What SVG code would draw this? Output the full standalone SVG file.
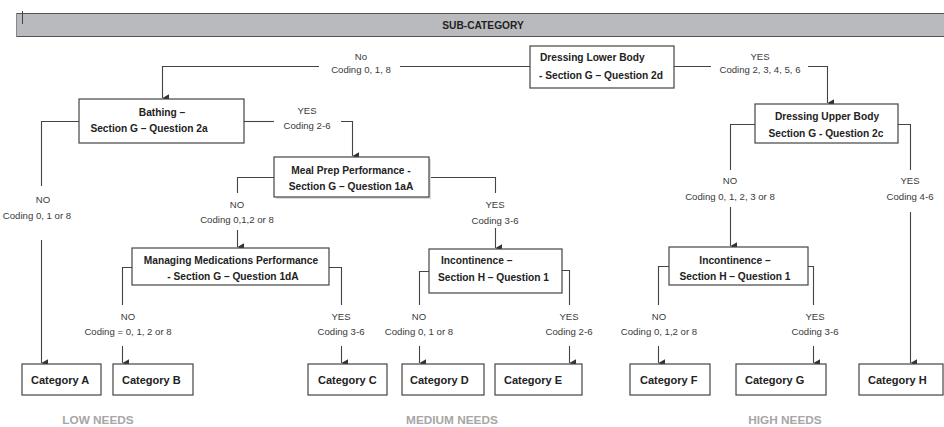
<svg xmlns="http://www.w3.org/2000/svg" width="944" height="427" viewBox="0 0 944 427">
<defs>
<marker id="arr" markerWidth="8" markerHeight="8" refX="3.5" refY="6" orient="auto-start-reverse" markerUnits="userSpaceOnUse" viewBox="0 0 7 7">
<path d="M0,0 L7,0 L3.5,6 Z" fill="#333"/>
</marker>
<style>
.box{fill:#fff;stroke:#444;stroke-width:1.2}
.bt{font-family:"Liberation Sans",Arial,sans-serif;font-weight:bold;font-size:10.2px;fill:#222}
.ct{font-family:"Liberation Sans",Arial,sans-serif;font-weight:bold;font-size:11px;fill:#222}
.lb{font-family:"Liberation Sans",Arial,sans-serif;font-size:9.6px;fill:#3a3a3a;text-anchor:middle}
.ft{font-family:"Liberation Sans",Arial,sans-serif;font-weight:bold;font-size:11.8px;fill:#a6a6a6;text-anchor:middle}
.ln{fill:none;stroke:#444;stroke-width:1.1}
.ar{fill:none;stroke:#444;stroke-width:1.1;marker-end:url(#arr)}
</style>
</defs>
<rect x="0" y="0" width="944" height="427" fill="#fff"/>
<g id="header">
<rect x="16" y="13" width="930" height="24" fill="#b9babd"/>
<line x1="16" y1="13.5" x2="944" y2="13.5" stroke="#555" stroke-width="1"/>
<line x1="16" y1="36.5" x2="944" y2="36.5" stroke="#555" stroke-width="1"/>
<line x1="16.5" y1="13" x2="16.5" y2="37" stroke="#888" stroke-width="1"/>
<line x1="22.5" y1="11" x2="22.5" y2="24" stroke="#444" stroke-width="1"/>
<text x="483" y="29" class="bt" text-anchor="middle">SUB-CATEGORY</text>
</g>
<g id="connectors">
<path class="ln" d="M530,66.5 H400"/>
<path class="ar" d="M319,66.5 H162.5 V98"/>
<path class="ln" d="M674,66.5 H711"/>
<path class="ar" d="M808,66.5 H827.5 V103"/>
<path class="ln" d="M79,121.5 H41.5 V186"/>
<path class="ar" d="M41.5,240 V363"/>
<path class="ln" d="M244,121.5 H274"/>
<path class="ar" d="M341,121.5 H352.5 V156"/>
<path class="ln" d="M274,177.5 H237.5 V193"/>
<path class="ar" d="M237.5,230 V247"/>
<path class="ln" d="M429,177.5 H495.5 V193"/>
<path class="ar" d="M495.5,228 V248"/>
<path class="ln" d="M132,267.5 H122.5 V305"/>
<path class="ar" d="M122.5,346 V363"/>
<path class="ln" d="M329,267.5 H341.5 V305"/>
<path class="ar" d="M341.5,346 V363"/>
<path class="ln" d="M429,271.5 H419.5 V305"/>
<path class="ar" d="M419.5,346 V363"/>
<path class="ln" d="M562,270.5 H569.5 V305"/>
<path class="ar" d="M569.5,346 V363"/>
<path class="ln" d="M755,124.5 H730.5 V170"/>
<path class="ar" d="M730.5,207 V246"/>
<path class="ln" d="M898,124.5 H910.5 V170"/>
<path class="ar" d="M910.5,212 V363"/>
<path class="ln" d="M669,266.5 H658.5 V305"/>
<path class="ar" d="M658.5,346 V363"/>
<path class="ln" d="M808,266.5 H813.5 V305"/>
<path class="ar" d="M813.5,346 V363"/>
<text class="lb" x="361" y="60">No</text>
<text class="lb" x="361" y="73">Coding 0, 1, 8</text>
<text class="lb" x="760" y="60">YES</text>
<text class="lb" x="760" y="73">Coding 2, 3, 4, 5, 6</text>
<text class="lb" x="307" y="114">YES</text>
<text class="lb" x="307" y="129">Coding 2-6</text>
<text class="lb" x="43" y="203">NO</text>
<text class="lb" x="37" y="219">Coding 0, 1 or 8</text>
<text class="lb" x="237" y="208">NO</text>
<text class="lb" x="237" y="223">Coding 0,1,2 or 8</text>
<text class="lb" x="495" y="208">YES</text>
<text class="lb" x="495" y="224">Coding 3-6</text>
<text class="lb" x="730" y="184">NO</text>
<text class="lb" x="730" y="200">Coding 0, 1, 2, 3 or 8</text>
<text class="lb" x="910" y="184">YES</text>
<text class="lb" x="910" y="200">Coding 4-6</text>
<text class="lb" x="128" y="320">NO</text>
<text class="lb" x="128" y="335">Coding = 0, 1, 2 or 8</text>
<text class="lb" x="341" y="320">YES</text>
<text class="lb" x="341" y="335">Coding 3-6</text>
<text class="lb" x="419" y="320">NO</text>
<text class="lb" x="419" y="335">Coding 0, 1 or 8</text>
<text class="lb" x="569" y="320">YES</text>
<text class="lb" x="569" y="335">Coding 2-6</text>
<text class="lb" x="659" y="320">NO</text>
<text class="lb" x="659" y="335">Coding 0, 1,2 or 8</text>
<text class="lb" x="815" y="320">YES</text>
<text class="lb" x="815" y="335">Coding 3-6</text>
</g>
<g id="dressing-lower">
<rect class="box" x="530" y="46" width="144" height="42"/>
<text class="bt" x="540" y="61">Dressing Lower Body</text>
<text class="bt" x="539" y="79">- Section G – Question 2d</text>
</g>
<g id="bathing">
<rect class="box" x="79" y="99" width="165" height="44"/>
<text class="bt" x="162" y="116" text-anchor="middle">Bathing –</text>
<text class="bt" x="149" y="132" text-anchor="middle">Section G – Question 2a</text>
</g>
<g id="meal-prep">
<rect x="276" y="159" width="155" height="40" fill="#ddd"/>
<rect class="box" x="274" y="157" width="155" height="40"/>
<text class="bt" x="351" y="174" text-anchor="middle">Meal Prep Performance -</text>
<text class="bt" x="351" y="190" text-anchor="middle">Section G – Question 1aA</text>
</g>
<g id="managing-medications">
<rect class="box" x="132" y="248" width="197" height="37"/>
<text class="bt" x="231" y="264" text-anchor="middle">Managing Medications Performance</text>
<text class="bt" x="233" y="280" text-anchor="middle">- Section G – Question 1dA</text>
</g>
<g id="incontinence-medium">
<rect class="box" x="429" y="249" width="133" height="44"/>
<text class="bt" x="441" y="264">Incontinence –</text>
<text class="bt" x="438" y="281">Section H – Question 1</text>
</g>
<g id="dressing-upper">
<rect class="box" x="755" y="104" width="143" height="39"/>
<text class="bt" x="827" y="120" text-anchor="middle">Dressing Upper Body</text>
<text class="bt" x="826" y="137" text-anchor="middle">Section G - Question 2c</text>
</g>
<g id="incontinence-high">
<rect class="box" x="669" y="247" width="139" height="38"/>
<text class="bt" x="735" y="264" text-anchor="middle">Incontinence –</text>
<text class="bt" x="735" y="280" text-anchor="middle">Section H – Question 1</text>
</g>
<g id="category-a"><rect class="box" x="22" y="364" width="79" height="31"/><text class="ct" x="31" y="384">Category A</text></g>
<g id="category-b"><rect class="box" x="113" y="364" width="80" height="31"/><text class="ct" x="122" y="384">Category B</text></g>
<g id="category-c"><rect class="box" x="308" y="364" width="79" height="31"/><text class="ct" x="318" y="384">Category C</text></g>
<g id="category-d"><rect class="box" x="402" y="364" width="82" height="31"/><text class="ct" x="410" y="384">Category D</text></g>
<g id="category-e"><rect class="box" x="495" y="364" width="87" height="31"/><text class="ct" x="504" y="384">Category E</text></g>
<g id="category-f"><rect class="box" x="630" y="364" width="80" height="31"/><text class="ct" x="640" y="384">Category F</text></g>
<g id="category-g"><rect class="box" x="736" y="364" width="90" height="31"/><text class="ct" x="745" y="384">Category G</text></g>
<g id="category-h"><rect class="box" x="859" y="364" width="84" height="31"/><text class="ct" x="868" y="384">Category H</text></g>
<g id="footer">
<text class="ft" x="98" y="423.5">LOW NEEDS</text>
<text class="ft" x="452" y="423.5">MEDIUM NEEDS</text>
<text class="ft" x="785" y="423.5">HIGH NEEDS</text>
</g>
</svg>
